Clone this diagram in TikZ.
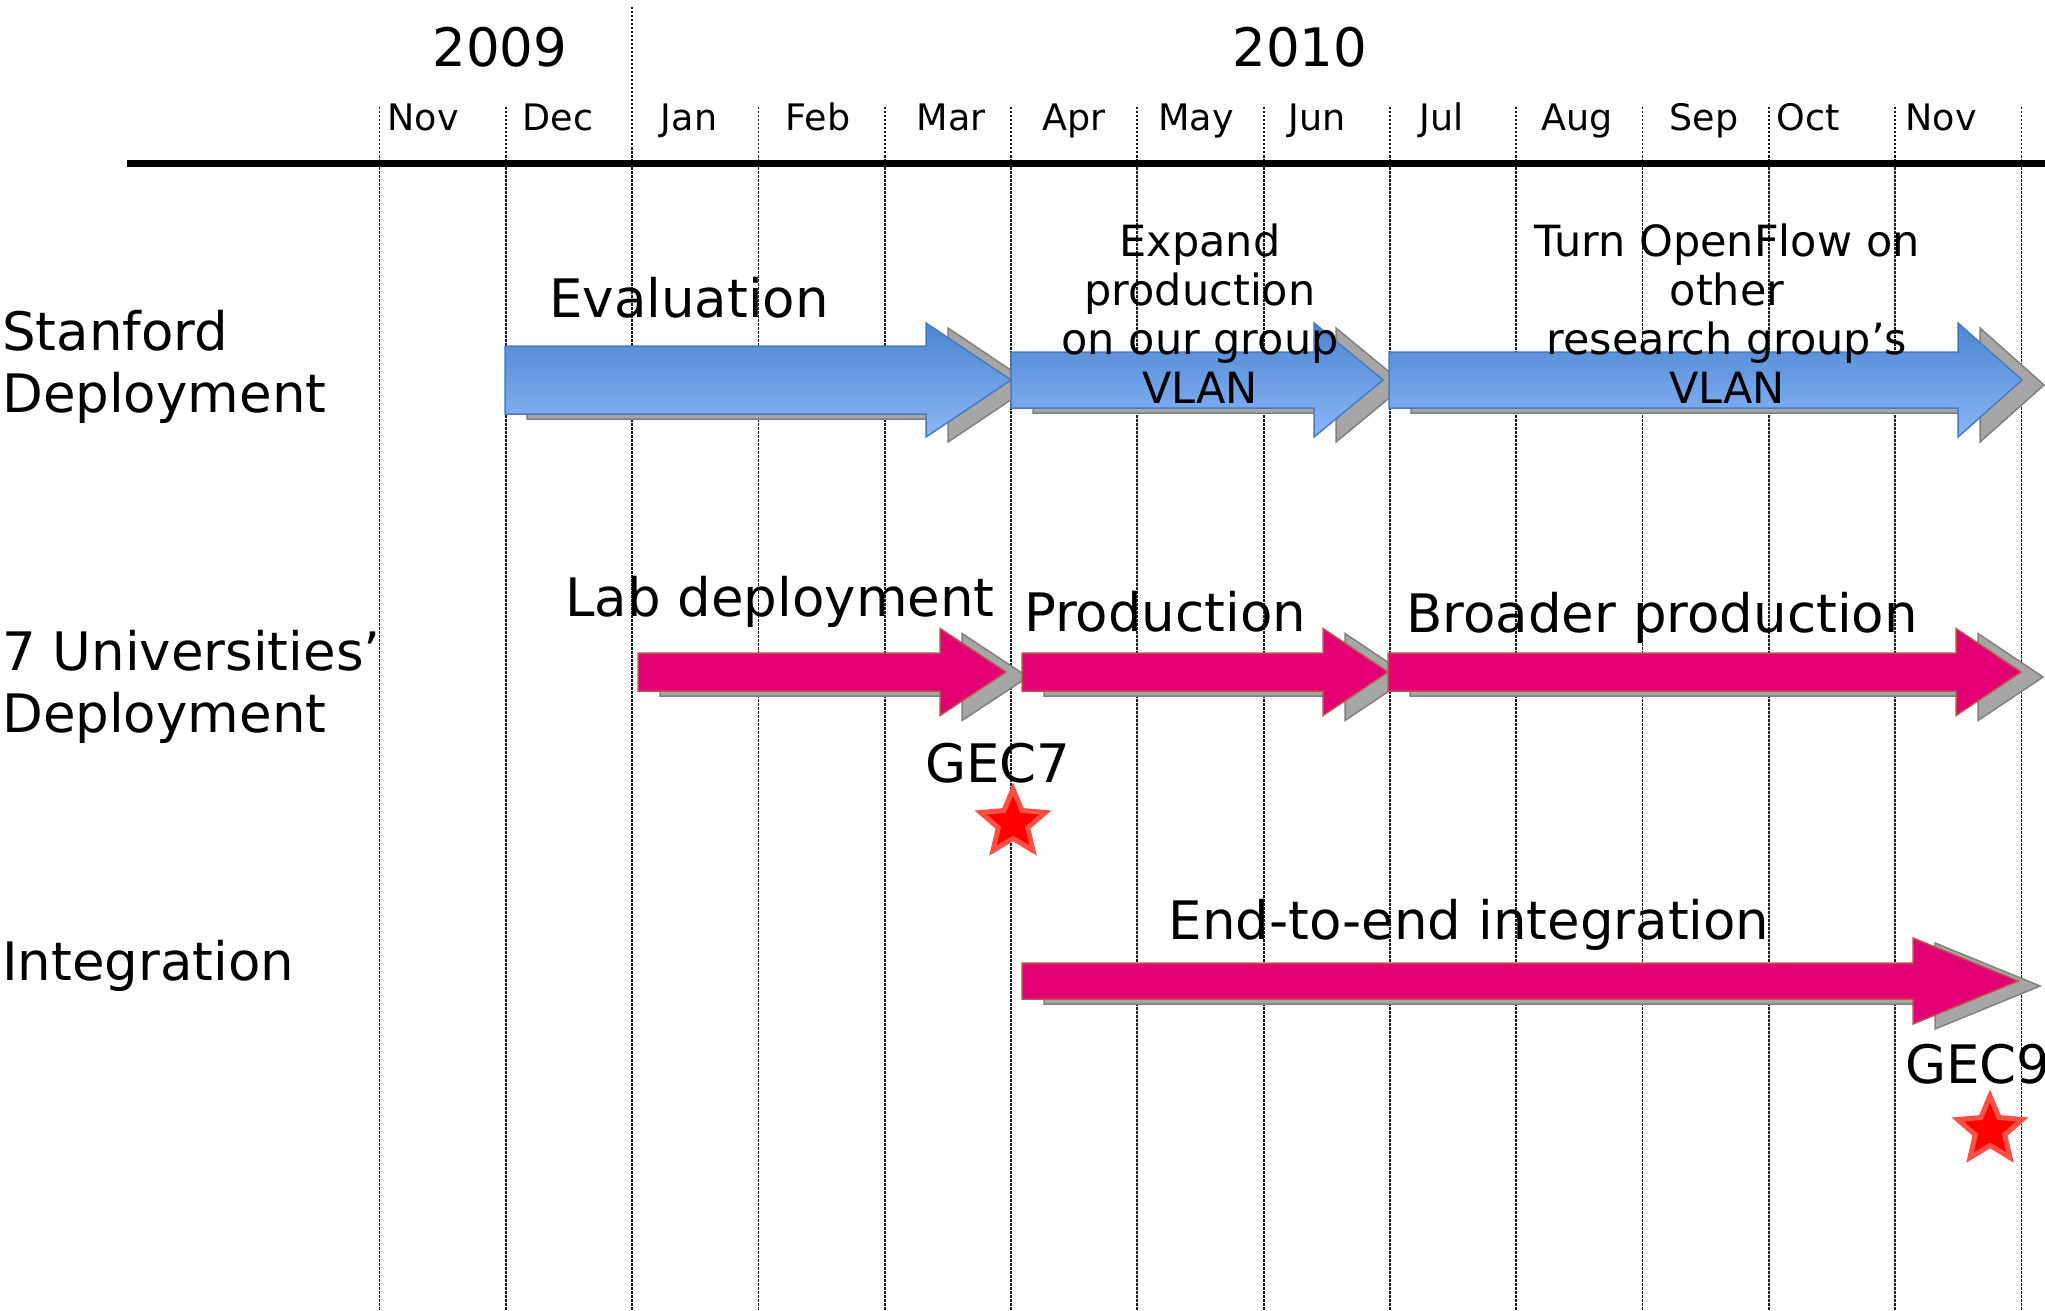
\documentclass[tikz,border=0pt]{standalone}
\usepackage{fontspec}
\setmainfont{DejaVu Sans}
\usetikzlibrary{shapes.geometric}
\definecolor{tlbluetop}{RGB}{74,134,208}
\definecolor{tlbluebot}{RGB}{140,182,246}
\definecolor{tlblueedge}{RGB}{72,122,196}
\definecolor{tlmagenta}{RGB}{226,0,114}
\definecolor{tlmagentaedge}{RGB}{190,80,80}
\definecolor{tlshadow}{RGB}{166,166,166}
\definecolor{tlshadowedge}{RGB}{128,128,128}
\definecolor{tlstar}{RGB}{255,0,0}
\definecolor{tlstaredge}{RGB}{255,80,70}

\tikzset{
  bluephase/.style={top color=tlbluetop, bottom color=tlbluebot, draw=tlblueedge, line width=1.5pt},
  pinkphase/.style={fill=tlmagenta, draw=tlmagentaedge, line width=1.5pt},
  phaseshadow/.style={fill=tlshadow, draw=tlshadowedge, line width=1.5pt, shift={(22,5)}},
}

% block arrow with drop shadow: style, left x, head x, tip x, centre y, half body, half head
\newcommand{\phasearrow}[7]{%
  \path[phaseshadow] (#2,#5-#6) -- (#3,#5-#6) -- (#3,#5-#7) -- (#4,#5) -- (#3,#5+#7) -- (#3,#5+#6) -- (#2,#5+#6) -- cycle;
  \path[#1] (#2,#5-#6) -- (#3,#5-#6) -- (#3,#5-#7) -- (#4,#5) -- (#3,#5+#7) -- (#3,#5+#6) -- (#2,#5+#6) -- cycle;
}

\begin{document}
\begin{tikzpicture}[x=1pt, y=-1pt,
  biglbl/.style={font=\fontsize{53}{62}\selectfont, inner sep=0pt},
  phasetxt/.style={font=\fontsize{43}{49}\selectfont, inner sep=0pt, align=center},
  monthlbl/.style={font=\fontsize{36.5}{40}\selectfont, inner sep=0pt},
  gridline/.style={line width=1.8pt, black!90, dash pattern=on 2.5pt off 1.5pt},
  gecstar/.style={star, star points=5, star point ratio=2.2, minimum size=68pt, inner sep=0pt, fill=tlstar, draw=tlstaredge, line width=5pt}]
  \useasboundingbox (0,0) rectangle (2045,1311);

  % Month grid (the year break reaches up to the top)
  \foreach \k in {0,...,13} {
    \pgfmathsetmacro{\gx}{379.5+126.3*\k}
    \pgfmathsetmacro{\gtop}{\k==2 ? 7 : 107}
    \draw[gridline] (\gx,\gtop) -- (\gx,1311);
  }

  % Time axis
  \draw[line width=7pt] (127,163) -- (2045,163);

  % Years and months
  \node[biglbl, anchor=base] (y2009) at (500,67) {2009};
  \node[biglbl, anchor=base] (y2010) at (1300,67) {2010};
  \foreach \m/\x [count=\i] in {Nov/423, Dec/558, Jan/689, Feb/818, Mar/951, Apr/1074, May/1196,
      Jun/1317, Jul/1442, Aug/1577, Sep/1704, Oct/1808, Nov/1941}
    \node[monthlbl, anchor=base] (month\i) at (\x,131) {\m};

  % Row titles (base = last line)
  \node[biglbl, anchor=base west, align=left] (stanford) at (2,412) {Stanford\\Deployment};
  \node[biglbl, anchor=base west, align=left] (univ) at (2,732) {7 Universities’\\Deployment};
  \node[biglbl, anchor=base west] (integ) at (2,980) {Integration};

  % Stanford deployment
  \phasearrow{bluephase}{505}{926}{1011}{380}{34}{57}
  \phasearrow{bluephase}{1011}{1314}{1383}{380}{28}{57}
  \phasearrow{bluephase}{1389}{1958}{2022}{380}{28}{57}

  % 7 universities' deployment
  \phasearrow{pinkphase}{638}{940}{1006}{672}{19}{43.5}
  \phasearrow{pinkphase}{1022}{1323}{1388}{672}{19}{43.5}
  \phasearrow{pinkphase}{1388}{1956}{2021}{672}{19}{43.5}

  % Integration
  \phasearrow{pinkphase}{1022}{1913}{2018}{981}{18}{43}

  % Phase labels
  \node[biglbl, anchor=base] (evaltext) at (689,317) {Evaluation};
  \node[phasetxt, anchor=base] (expandtext) at (1200,403) {Expand\\production\\on our group\\VLAN};
  \node[phasetxt, anchor=base] (turnontext) at (1727,403) {Turn OpenFlow on\\other\\research group’s\\VLAN};
  \node[biglbl, anchor=base] (labtext) at (780,616) {Lab deployment};
  \node[biglbl, anchor=base] (prodtext) at (1165,631) {Production};
  \node[biglbl, anchor=base] (broadtext) at (1662,632) {Broader production};
  \node[biglbl, anchor=base] (e2etext) at (1469,939) {End-to-end integration};

  % GEC milestones
  \node[biglbl, anchor=base] (gec7text) at (998,782) {GEC7};
  \node[gecstar] (gec7star) at (1013,823) {};
  \node[biglbl, anchor=base west] (gec9text) at (1905,1083) {GEC9};
  \node[gecstar] (gec9star) at (1990,1130) {};
\end{tikzpicture}
\end{document}
